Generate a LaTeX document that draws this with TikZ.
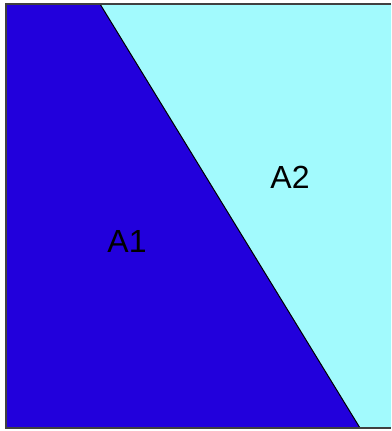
\documentclass[tikz,border=0pt]{standalone}
\usepackage{fontspec}
\setmainfont{Liberation Sans}
\usepackage{xcolor}
\usepackage{tikz}
\definecolor{deepblue}{HTML}{2200DC}
\definecolor{softcyan}{HTML}{A2FAFD}
\definecolor{frame}{HTML}{404040}
\tikzset{
  region/.style={draw=black, line width=0.5pt},
  border/.style={draw=frame, line width=1pt},
  arealabel/.style={font=\fontsize{16}{19}\selectfont, text=black, inner sep=0pt}
}

\begin{document}
\begin{tikzpicture}[x=0.5pt, y=-0.5pt]
  \useasboundingbox (0,0) rectangle (391,431);

  % corner points of the square and the cut
  \coordinate (tl) at (6,4);
  \coordinate (tr) at (391,4);
  \coordinate (bl) at (6,428);
  \coordinate (br) at (391,428);
  \coordinate (cuttop) at (100,4);
  \coordinate (cutbot) at (360,428);

  % the two areas
  \fill[softcyan] (cuttop) -- (tr) -- (br) -- (cutbot) -- cycle;
  \fill[deepblue] (tl) -- (cuttop) -- (cutbot) -- (bl) -- cycle;
  \draw[region] (cuttop) -- (cutbot);

  % frame
  \draw[border] (tr) -- (tl) -- (bl) -- (br);

  % labels
  \node[arealabel] (a1) at (127,241) {A1};
  \node[arealabel] (a2) at (290,177) {A2};
\end{tikzpicture}
\end{document}
